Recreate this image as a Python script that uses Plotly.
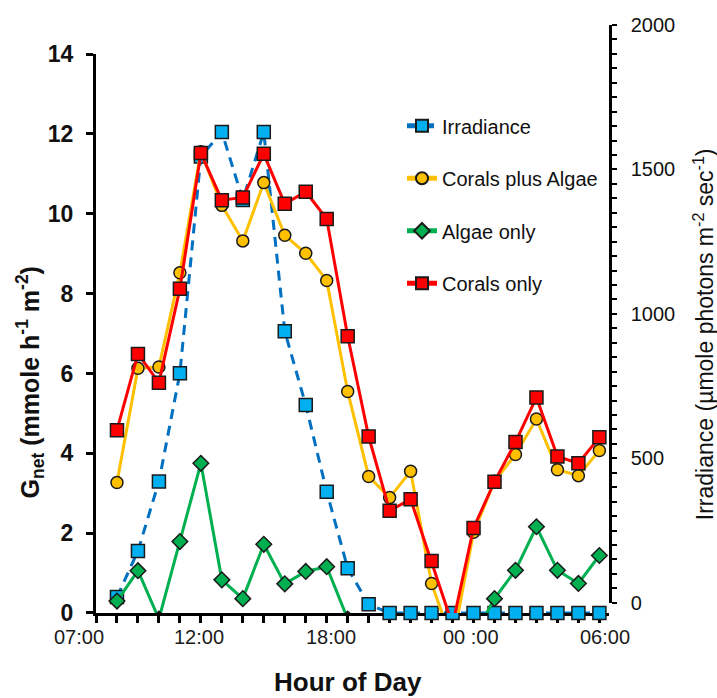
import plotly.graph_objects as go

# ---------------- data ----------------
hours = [8, 9, 10, 11, 12, 13, 14, 15, 16, 17, 18, 19, 20, 21, 22, 23, 24,
         25, 26, 27, 28, 29, 30, 31]  # hours since midnight of day 1

irradiance = [55, 215, 455, 830, 1580, 1665, 1430, 1665, 975, 720, 420, 155,
              30, 0, 0, 0, 0, 0, 0, 0, 0, 0, 0, 0]

corals_plus_algae = [3.27, 6.13, 6.16, 8.52, 11.55, 10.21, 9.32, 10.78, 9.46,
                     9.01, 8.33, 5.55, 3.42, 2.89, 3.55, 0.74, -0.75, 2.02,
                     3.30, 3.97, 4.86, 3.59, 3.44, 4.07]

algae_only = [0.30, 1.06, -0.15, 1.79, 3.75, 0.83, 0.36, 1.72, 0.73, 1.04,
              1.16, -0.15, None, None, None, None, None, -0.61, 0.36, 1.07,
              2.16, 1.07, 0.74, 1.44]

corals_only = [4.58, 6.49, 5.77, 8.12, 11.52, 10.34, 10.41, 11.50, 10.25,
               10.55, 9.87, 6.93, 4.42, 2.56, 2.85, 1.30, -0.30, 2.13, 3.29,
               4.28, 5.40, 3.92, 3.75, 4.40]

time_labels = ["07:00", "12:00", "18:00", "00 :00", "06:00"]
time_label_hours = [6.18, 11.90, 18.19, 24.86, 31.25]

gnet_ticks = [0, 2, 4, 6, 8, 10, 12, 14]
irr_ticks = [0, 500, 1000, 1500, 2000]

# ---------------- layout geometry ----------------
W, H = 717, 698
ML, MR, MT, MB = 96, 108, 20, 85
plot_w = W - ML - MR
plot_h = H - MT - MB
left_top_frac = 0.9506          # top of the Gnet axis (value 14)
right_dom = [0.0174, 1.0]       # visible irradiance axis
# hidden irradiance axis aligned with the Gnet axis (zero on the x axis)
irr_top = 2000 * left_top_frac / (right_dom[1] - right_dom[0])
x_start = 7
x_end = x_start + plot_w / 20.974

FONT = "Liberation Sans, Arial, sans-serif"

fig = go.Figure()

fig.add_trace(go.Scatter(
    x=hours, y=irradiance, name="Irradiance", xaxis="x", yaxis="y",
    mode="lines+markers", cliponaxis=False,
    line=dict(color="#0070C0", width=3, dash="10px,7px"),
    marker=dict(symbol="square", size=13, color="#00B0F0",
                line=dict(color="#1a1a1a", width=1.5)),
    legendgroup="a"))

fig.add_trace(go.Scatter(
    x=hours, y=corals_plus_algae, name="Corals plus Algae", xaxis="x", yaxis="y2",
    mode="lines+markers",
    line=dict(color="#FFC000", width=3),
    marker=dict(symbol="circle", size=12, color="#FFC000",
                line=dict(color="#1a1a1a", width=1.5)),
    legendgroup="b"))

fig.add_trace(go.Scatter(
    x=hours, y=algae_only, name="Algae only", xaxis="x", yaxis="y2",
    mode="lines+markers",
    line=dict(color="#00B050", width=3),
    marker=dict(symbol="diamond", size=12, color="#00B050",
                line=dict(color="#1a1a1a", width=1.5)),
    legendgroup="c"))

fig.add_trace(go.Scatter(
    x=hours, y=corals_only, name="Corals only", xaxis="x", yaxis="y2",
    mode="lines+markers",
    line=dict(color="#FF0000", width=3),
    marker=dict(symbol="square", size=13, color="#FF0000",
                line=dict(color="#1a1a1a", width=1.5)),
    legendgroup="d"))

# invisible carrier so that the printed irradiance scale (right axis) is drawn
fig.add_trace(go.Scatter(
    x=hours, y=irradiance, xaxis="x", yaxis="y3", mode="lines",
    line=dict(width=0, color="rgba(0,0,0,0)"), opacity=0,
    showlegend=False, hoverinfo="skip"))

annotations = []
for lab, hx in zip(time_labels, time_label_hours):
    annotations.append(dict(x=(hx - x_start) / (x_end - x_start), xref="paper",
                            y=-0.040, yref="paper",
                            text=lab, showarrow=False, xanchor="center",
                            yanchor="middle",
                            font=dict(family=FONT, size=20, color="#1a1a1a")))
annotations.append(dict(x=0.491, xref="paper", y=-0.118, yref="paper",
                        text="<b>Hour of Day</b>", showarrow=False,
                        xanchor="center", yanchor="middle",
                        font=dict(family=FONT, size=26, color="#111")))
annotations.append(dict(x=-0.1287, xref="paper", y=0.392, yref="paper",
                        text="<b>G<sub>net</sub> (mmole h<sup>-1</sup> m<sup>-2</sup>)</b>",
                        textangle=-90, showarrow=False,
                        xanchor="center", yanchor="middle",
                        font=dict(family=FONT, size=25, color="#111")))
annotations.append(dict(x=1.185, xref="paper", y=0.474, yref="paper",
                        text="Irradiance (µmole photons m<sup>-2</sup> sec<sup>-1</sup>)",
                        textangle=-90, showarrow=False,
                        xanchor="center", yanchor="middle",
                        font=dict(family=FONT, size=23, color="#111")))

fig.update_layout(
    width=W, height=H,
    margin=dict(l=ML, r=MR, t=MT, b=MB, pad=0),
    paper_bgcolor="white", plot_bgcolor="rgba(0,0,0,0)",
    font=dict(family=FONT, color="#111"),
    showlegend=True,
    legend=dict(x=(402 - ML) / plot_w, xanchor="left",
                y=(H - MB - 102) / plot_h, yanchor="top",
                traceorder="grouped", tracegroupgap=23.5,
                font=dict(family=FONT, size=20, color="#111"),
                bgcolor="rgba(0,0,0,0)", itemsizing="constant"),
    xaxis=dict(domain=[0, 1], range=[x_start, x_end], anchor="y",
               showline=True, linecolor="black", linewidth=3,
               ticks="outside", ticklen=7, tickwidth=2.5, tickcolor="black",
               tick0=7, dtick=1, showticklabels=False,
               showgrid=False, zeroline=False, layer="below traces"),
    yaxis=dict(domain=[0, left_top_frac], range=[0, irr_top], visible=False,
               showgrid=False, zeroline=False),
    yaxis2=dict(overlaying="y", side="left", anchor="x", range=[0, 14],
                tickvals=gnet_ticks,
                showline=True, linecolor="black", linewidth=3,
                ticks="outside", ticklen=7, tickwidth=2.5, tickcolor="black",
                ticklabelstandoff=8,
                tickfont=dict(family=FONT, size=23, color="#111", weight="bold"),
                showgrid=False, zeroline=False),
    yaxis3=dict(domain=right_dom, anchor="x", side="right", range=[0, 2000],
                tickvals=irr_ticks,
                showline=True, linecolor="black", linewidth=2.5,
                ticks="outside", ticklen=5, tickwidth=2, tickcolor="black",
                minor=dict(dtick=50, ticks="outside", ticklen=5, tickwidth=2,
                           tickcolor="black"),
                ticklabelstandoff=10,
                tickfont=dict(family=FONT, size=20, color="#111"),
                showgrid=False, zeroline=False),
    annotations=annotations,
)

fig.write_html("out.html")
